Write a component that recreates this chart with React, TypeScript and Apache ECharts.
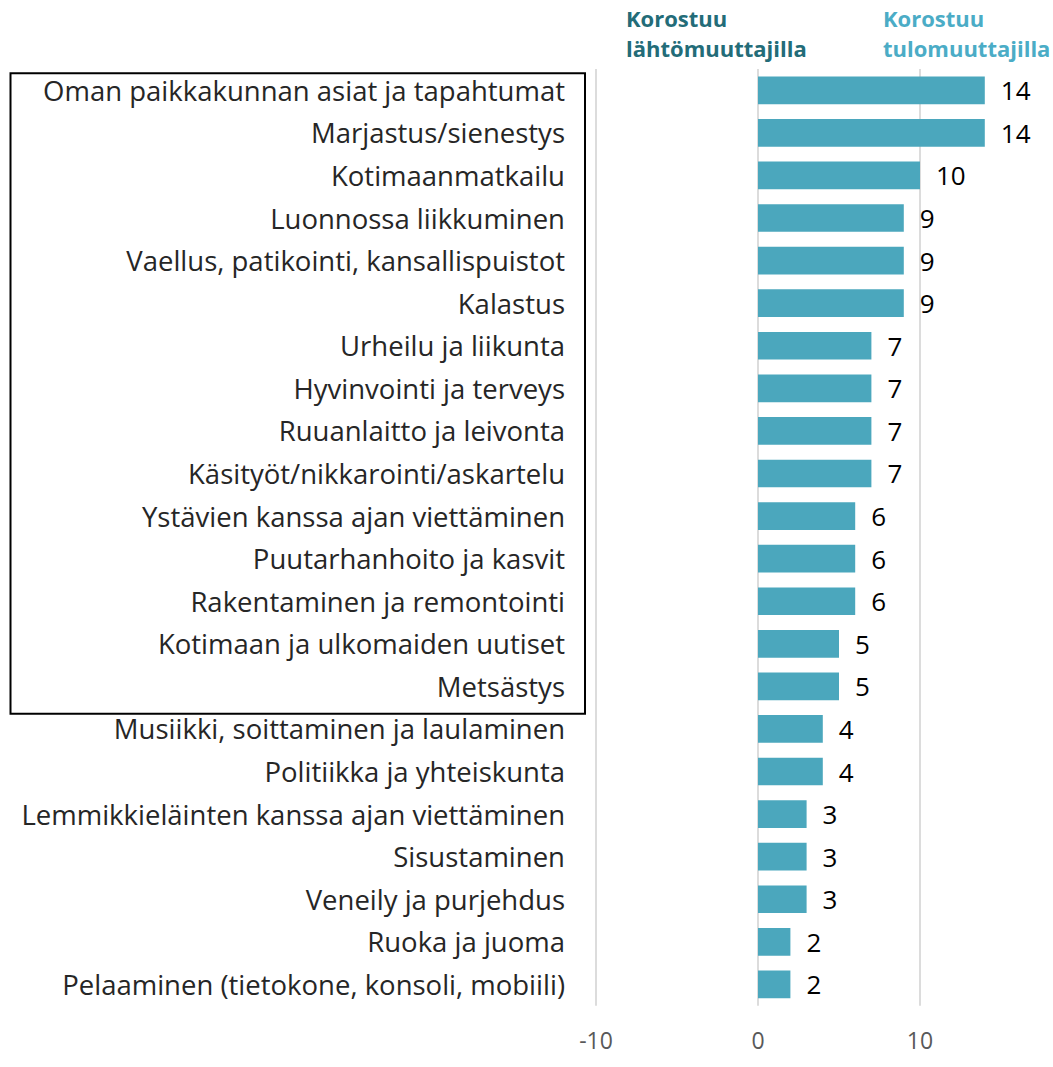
import React, { useEffect, useRef } from "react";
import * as echarts from "echarts";

const categories = [
  "Oman paikkakunnan asiat ja tapahtumat",
  "Marjastus/sienestys",
  "Kotimaanmatkailu",
  "Luonnossa liikkuminen",
  "Vaellus, patikointi, kansallispuistot",
  "Kalastus",
  "Urheilu ja liikunta",
  "Hyvinvointi ja terveys",
  "Ruuanlaitto ja leivonta",
  "Käsityöt/nikkarointi/askartelu",
  "Ystävien kanssa ajan viettäminen",
  "Puutarhanhoito ja kasvit",
  "Rakentaminen ja remontointi",
  "Kotimaan ja ulkomaiden uutiset",
  "Metsästys",
  "Musiikki, soittaminen ja laulaminen",
  "Politiikka ja yhteiskunta",
  "Lemmikkieläinten kanssa ajan viettäminen",
  "Sisustaminen",
  "Veneily ja purjehdus",
  "Ruoka ja juoma",
  "Pelaaminen (tietokone, konsoli, mobiili)",
];

const values = [14, 14, 10, 9, 9, 9, 7, 7, 7, 7, 6, 6, 6, 5, 5, 4, 4, 3, 3, 3, 2, 2];

const headerLeft = ["Korostuu", "lähtömuuttajilla"];
const headerRight = ["Korostuu", "tulomuuttajilla"];

const FONT = "'Open Sans', 'Noto Sans', sans-serif";

export default function App() {
  const ref = useRef<HTMLDivElement>(null);
  useEffect(() => {
    if (!ref.current) return;
    const chart = echarts.init(ref.current, undefined, { renderer: "svg" });
    chart.setOption({
      animation: false,
      textStyle: { fontFamily: FONT },
      grid: { left: 596, right: 3.4, top: 69, bottom: 61.3, containLabel: false },
      xAxis: {
        type: "value",
        min: -10,
        max: 18,
        interval: 10,
        axisLine: { show: false },
        axisTick: { show: false },
        axisLabel: { fontSize: 23, color: "#595959", margin: 23, showMaxLabel: false, fontFamily: FONT },
        splitLine: { show: true, showMaxLine: false, lineStyle: { color: "#D0D0D0", width: 1.5 } },
      },
      yAxis: {
        type: "category",
        data: categories,
        inverse: true,
        axisLine: { show: false },
        axisTick: { show: false },
        axisLabel: { fontSize: 27.5, color: "#262626", margin: 31, fontFamily: FONT },
      },
      series: [
        {
          type: "bar",
          data: values,
          barCategoryGap: "35%",
          itemStyle: { color: "#4BA7BD" },
          label: {
            show: true,
            position: "right",
            distance: 16,
            fontSize: 26,
            color: "#000000",
            fontFamily: FONT,
          },
        },
      ],
      graphic: [
        {
          type: "rect",
          shape: { x: 10.5, y: 73.3, width: 574.5, height: 640.4 },
          style: { fill: "none", stroke: "#000000", lineWidth: 2 },
          silent: true,
        },
        {
          type: "text",
          left: 626,
          top: 3,
          style: {
            text: headerLeft.join("\n"),
            font: `bold 22px ${FONT}`,
            fill: "#236C78",
            lineHeight: 30,
          },
        },
        {
          type: "text",
          left: 883,
          top: 3,
          style: {
            text: headerRight.join("\n"),
            font: `bold 22px ${FONT}`,
            fill: "#4BACC6",
            lineHeight: 30,
          },
        },
      ],
    });
    return () => chart.dispose();
  }, []);
  return (
    <div
      ref={ref}
      style={{ position: "absolute", left: 0, top: 0, width: 1053, height: 1067 }}
    />
  );
}
